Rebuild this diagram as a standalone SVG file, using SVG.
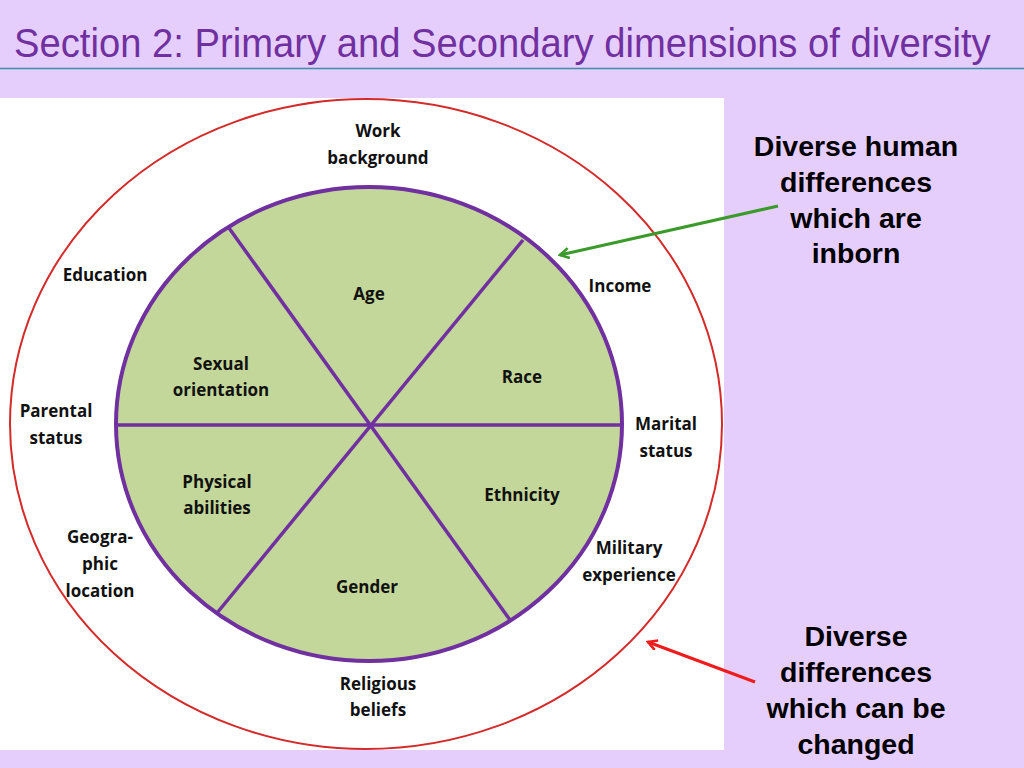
<svg xmlns="http://www.w3.org/2000/svg" width="1024" height="768" viewBox="0 0 1024 768">
<defs>
<style>
.lbl{font-family:"Open Sans","Liberation Sans",sans-serif;font-weight:700;font-size:17px;fill:#111;text-anchor:middle}
.side{font-family:"Liberation Sans",Arial,sans-serif;font-weight:700;font-size:28.5px;fill:#000;text-anchor:middle}
.spoke{stroke:#7030A0;stroke-width:3.5;fill:none}
</style>
<marker id="ag" viewBox="0 0 12 12" refX="10" refY="6" markerWidth="12" markerHeight="12" markerUnits="userSpaceOnUse" orient="auto">
<path d="M1,1 L10,6 L1,11" fill="none" stroke="#3a9a2a" stroke-width="2.6"/>
</marker>
<marker id="ar" viewBox="0 0 12 12" refX="10" refY="6" markerWidth="12" markerHeight="12" markerUnits="userSpaceOnUse" orient="auto">
<path d="M1,1 L10,6 L1,11" fill="none" stroke="#ee1c1c" stroke-width="2.6"/>
</marker>
</defs>
<rect x="0" y="0" width="1024" height="768" fill="#E6CEFC"/>
<text transform="matrix(0.955,0,0,1,14,57)" x="0" y="0" font-family="'Liberation Sans',Arial,sans-serif" font-size="40" fill="#7030A0">Section 2: Primary and Secondary dimensions of diversity</text>
<line x1="0" y1="68.5" x2="1024" y2="68.5" stroke="#3b8ea5" stroke-width="1.5"/>
<rect x="0" y="98" width="724" height="652" fill="#ffffff"/>
<ellipse id="outer" cx="366" cy="424" rx="356" ry="325" fill="none" stroke="#d42a2a" stroke-width="2"/>
<g id="wheel">
<ellipse cx="369" cy="424" rx="253" ry="237" fill="#C4D79B" stroke="#7030A0" stroke-width="4"/>
<line class="spoke" x1="116" y1="425" x2="622" y2="425"/>
<line class="spoke" x1="229" y1="228" x2="510" y2="620"/>
<line class="spoke" x1="523" y1="240" x2="217" y2="613"/>
</g>
<g id="inner-labels">
<g id="age"><text class="lbl" x="369" y="300">Age</text></g>
<g id="sexual"><text class="lbl" x="221" y="370">Sexual</text><text class="lbl" x="221" y="396">orientation</text></g>
<g id="race"><text class="lbl" x="522" y="383">Race</text></g>
<g id="physical"><text class="lbl" x="217" y="488">Physical</text><text class="lbl" x="217" y="514">abilities</text></g>
<g id="ethnicity"><text class="lbl" x="522" y="501">Ethnicity</text></g>
<g id="gender"><text class="lbl" x="367" y="593">Gender</text></g>
</g>
<g id="outer-labels">
<g id="work"><text class="lbl" x="378" y="137">Work</text><text class="lbl" x="378" y="164">background</text></g>
<g id="education"><text class="lbl" x="105" y="281">Education</text></g>
<g id="income"><text class="lbl" x="620" y="292">Income</text></g>
<g id="parental"><text class="lbl" x="56" y="417">Parental</text><text class="lbl" x="56" y="444">status</text></g>
<g id="marital"><text class="lbl" x="666" y="430">Marital</text><text class="lbl" x="666" y="457">status</text></g>
<g id="geo"><text class="lbl" x="100" y="543">Geogra-</text><text class="lbl" x="100" y="570">phic</text><text class="lbl" x="100" y="597">location</text></g>
<g id="military"><text class="lbl" x="629" y="554">Military</text><text class="lbl" x="629" y="581">experience</text></g>
<g id="religious"><text class="lbl" x="378" y="690">Religious</text><text class="lbl" x="378" y="716">beliefs</text></g>
</g>
<g id="inborn"><text class="side" x="856" y="156">Diverse human</text><text class="side" x="856" y="192">differences</text><text class="side" x="856" y="228">which are</text><text class="side" x="856" y="263">inborn</text></g>
<g id="changed"><text class="side" x="856" y="646">Diverse</text><text class="side" x="856" y="682">differences</text><text class="side" x="856" y="718">which can be</text><text class="side" x="856" y="754">changed</text></g>
<g id="connectors">
<line x1="778" y1="206" x2="560" y2="255" stroke="#3a9a2a" stroke-width="3" marker-end="url(#ag)"/>
<line x1="755" y1="682" x2="648" y2="642" stroke="#ee1c1c" stroke-width="3" marker-end="url(#ar)"/>
</g>
</svg>
